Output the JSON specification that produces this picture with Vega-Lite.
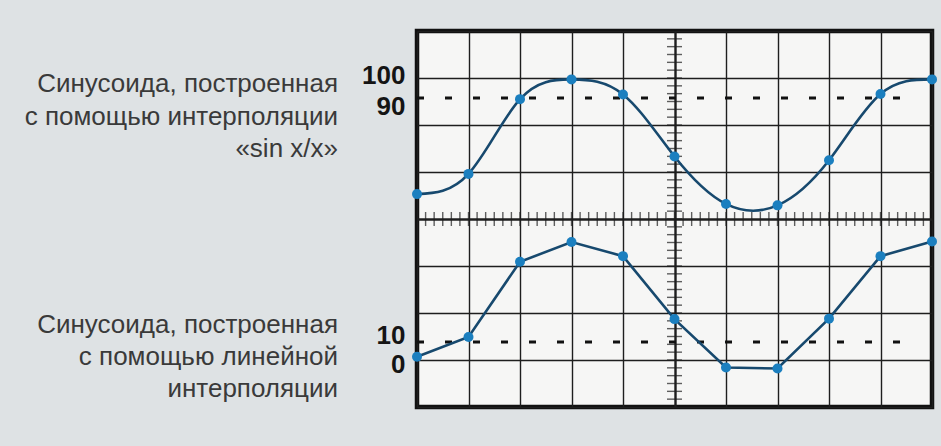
{
  "$schema": "https://vega.github.io/schema/vega-lite/v6.json",
  "width": 515,
  "height": 376,
  "autosize": {"type": "none"},
  "padding": {"left": 417, "top": 31, "right": 9, "bottom": 39},
  "background": "#dee2e4",
  "config": {
    "view": {"fill": "#f6f6f5", "stroke": "#111111", "strokeWidth": 4.5},
    "axis": {"domain": false, "ticks": false, "title": null}
  },
  "datasets": {
    "samples": [
      {"i": 0, "trace": "sinc", "v": 4.53},
      {"i": 1, "trace": "sinc", "v": 4.96},
      {"i": 2, "trace": "sinc", "v": 6.55},
      {"i": 3, "trace": "sinc", "v": 6.97},
      {"i": 4, "trace": "sinc", "v": 6.65},
      {"i": 5, "trace": "sinc", "v": 5.33},
      {"i": 6, "trace": "sinc", "v": 4.32},
      {"i": 7, "trace": "sinc", "v": 4.29},
      {"i": 8, "trace": "sinc", "v": 5.25},
      {"i": 9, "trace": "sinc", "v": 6.66},
      {"i": 10, "trace": "sinc", "v": 6.97},
      {"i": 0, "trace": "linear", "v": 1.07},
      {"i": 1, "trace": "linear", "v": 1.49},
      {"i": 2, "trace": "linear", "v": 3.09},
      {"i": 3, "trace": "linear", "v": 3.51},
      {"i": 4, "trace": "linear", "v": 3.21},
      {"i": 5, "trace": "linear", "v": 1.87},
      {"i": 6, "trace": "linear", "v": 0.84},
      {"i": 7, "trace": "linear", "v": 0.82},
      {"i": 8, "trace": "linear", "v": 1.88},
      {"i": 9, "trace": "linear", "v": 3.21},
      {"i": 10, "trace": "linear", "v": 3.52}
    ],
    "minor": [
      {"p": 0.167}, {"p": 0.333}, {"p": 0.5}, {"p": 0.667}, {"p": 0.833}, {"p": 1},
      {"p": 1.167}, {"p": 1.333}, {"p": 1.5}, {"p": 1.667}, {"p": 1.833}, {"p": 2},
      {"p": 2.167}, {"p": 2.333}, {"p": 2.5}, {"p": 2.667}, {"p": 2.833}, {"p": 3},
      {"p": 3.167}, {"p": 3.333}, {"p": 3.5}, {"p": 3.667}, {"p": 3.833}, {"p": 4},
      {"p": 4.167}, {"p": 4.333}, {"p": 4.5}, {"p": 4.667}, {"p": 4.833}, {"p": 5},
      {"p": 5.167}, {"p": 5.333}, {"p": 5.5}, {"p": 5.667}, {"p": 5.833}, {"p": 6},
      {"p": 6.167}, {"p": 6.333}, {"p": 6.5}, {"p": 6.667}, {"p": 6.833}, {"p": 7},
      {"p": 7.167}, {"p": 7.333}, {"p": 7.5}, {"p": 7.667}, {"p": 7.833}, {"p": 8},
      {"p": 8.167}, {"p": 8.333}, {"p": 8.5}, {"p": 8.667}, {"p": 8.833}, {"p": 9},
      {"p": 9.167}, {"p": 9.333}, {"p": 9.5}, {"p": 9.667}, {"p": 9.833}
    ],
    "levels": [
      {"label": "90", "level": 6.574},
      {"label": "10", "level": 1.383}
    ]
  },
  "resolve": {"axis": {"x": "independent", "y": "independent"}},
  "layer": [
    {
      "data": {"name": "minor"},
      "mark": {"type": "tick", "orient": "vertical", "size": 14, "thickness": 1.4, "color": "#1e1e1e"},
      "encoding": {
        "x": {"field": "p", "type": "quantitative", "scale": {"domain": [0, 10], "nice": false, "zero": false},
          "axis": {"orient": "bottom", "values": [0, 1, 2, 3, 4, 5, 6, 7, 8, 9, 10], "grid": true, "labels": false, "gridColor": "#1e1e1e",
            "gridWidth": {"condition": {"test": "datum.value == 5", "value": 2.4}, "value": 1.4}}},
        "y": {"datum": 4, "type": "quantitative", "scale": {"domain": [0, 8], "nice": false, "zero": false},
          "axis": {"orient": "left", "values": [0, 1, 2, 3, 4, 5, 6, 7, 8], "grid": true, "labels": false, "gridColor": "#1e1e1e",
            "gridWidth": {"condition": {"test": "datum.value == 4", "value": 2.4}, "value": 1.4}}}
      }
    },
    {
      "data": {"name": "minor"},
      "transform": [{"filter": "datum.p < 8"}],
      "mark": {"type": "tick", "orient": "horizontal", "size": 15, "thickness": 1.4, "color": "#1e1e1e"},
      "encoding": {
        "y": {"field": "p", "type": "quantitative", "axis": null},
        "x": {"datum": 5, "type": "quantitative", "axis": null}
      }
    },
    {
      "data": {"name": "levels"},
      "mark": {"type": "rule", "color": "#111111", "strokeWidth": 3, "strokeCap": "butt", "strokeDash": [7, 21]},
      "encoding": {
        "y": {"field": "level", "type": "quantitative",
          "axis": {"orient": "left", "values": [7, 6.574, 1.383, 1], "grid": false,
            "labelExpr": "datum.value > 6.8 ? '100' : datum.value > 6 ? '90' : datum.value > 1.2 ? '10' : '0'",
            "labelFont": "Liberation Sans", "labelFontSize": 26, "labelFontWeight": "bold", "labelColor": "#141414", "labelPadding": 12,
            "labelBaseline": "middle", "labelAlign": "right", "labelOverlap": false, "labelBound": false, "labelFlush": false,
            "labelOffset": {"condition": [
              {"test": "datum.value > 6.8", "value": -3},
              {"test": "datum.value > 6", "value": 8},
              {"test": "datum.value > 1.2", "value": -6}], "value": 4}}},
        "x": {"datum": 0, "type": "quantitative", "axis": null},
        "x2": {"datum": 9.6}
      }
    },
    {
      "data": {"name": "samples"},
      "transform": [{"filter": "datum.trace == 'sinc'"}],
      "mark": {"type": "line", "interpolate": "natural", "color": "#17496e", "strokeWidth": 2.6},
      "encoding": {
        "x": {"field": "i", "type": "quantitative", "axis": null},
        "y": {"field": "v", "type": "quantitative", "axis": null}
      }
    },
    {
      "data": {"name": "samples"},
      "transform": [{"filter": "datum.trace == 'linear'"}],
      "mark": {"type": "line", "interpolate": "linear", "color": "#17496e", "strokeWidth": 2.6},
      "encoding": {
        "x": {"field": "i", "type": "quantitative", "axis": null},
        "y": {"field": "v", "type": "quantitative", "axis": null}
      }
    },
    {
      "data": {"name": "samples"},
      "mark": {"type": "circle", "size": 100, "color": "#1b7fbf", "opacity": 1},
      "encoding": {
        "x": {"field": "i", "type": "quantitative", "axis": null},
        "y": {"field": "v", "type": "quantitative", "axis": null}
      }
    },
    {
      "data": {"values": [{"caption": "Синусоида, построенная|с помощью интерполяции|«sin x/x»"}]},
      "mark": {"type": "text", "align": "right", "baseline": "alphabetic", "lineBreak": "|", "lineHeight": 32.5,
        "font": "Liberation Sans", "fontSize": 26, "color": "#3a3a3a"},
      "encoding": {
        "text": {"field": "caption"},
        "x": {"datum": -1.534, "type": "quantitative", "axis": null},
        "y": {"datum": 6.70, "type": "quantitative", "axis": null}
      }
    },
    {
      "data": {"values": [{"caption": "Синусоида, построенная|с помощью линейной|интерполяции"}]},
      "mark": {"type": "text", "align": "right", "baseline": "alphabetic", "lineBreak": "|", "lineHeight": 32,
        "font": "Liberation Sans", "fontSize": 26, "color": "#3a3a3a"},
      "encoding": {
        "text": {"field": "caption"},
        "x": {"datum": -1.534, "type": "quantitative", "axis": null},
        "y": {"datum": 1.574, "type": "quantitative", "axis": null}
      }
    }
  ]
}
